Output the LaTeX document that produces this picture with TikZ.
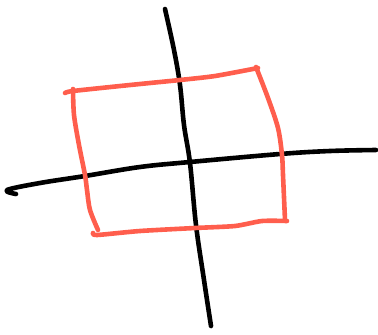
\documentclass[tikz,border=0pt]{standalone}
\usepackage{xcolor}
\usepackage{tikz}
\usetikzlibrary{calc}

\definecolor{sketchred}{HTML}{FF5E4D}

\begin{document}
\begin{tikzpicture}[
    x=1pt,
    y=-1pt,
    line cap=round,
    line join=round,
    axisline/.style={
        draw=black,
        line width=4.6pt
    },
    boxline/.style={
        draw=sketchred,
        line width=4.6pt
    }
]

\useasboundingbox (0,0) rectangle (378,335);

% ==========================================================
% AXES
% ==========================================================
\draw[axisline] plot[smooth, tension=0.6] coordinates {
    (165,9) (174,50) (180,85) (184,125) (190,163) (196,225) (204,280) (211,326)};

\draw[axisline] plot[smooth, tension=0.6] coordinates {
    (16,194) (7,190) (40,183) (85,176) (140,167) (190,162) (280,154) (330,151) (376,150)};

% ==========================================================
% BOX
% ==========================================================
\draw[boxline] plot[smooth, tension=0.4] coordinates {
    (65,93) (73,91) (130,85) (180,80) (215,76) (258,68)};
\draw[boxline] plot[smooth, tension=0.5] coordinates {
    (256,67) (268,98) (278,128) (282,155) (283,175) (285,220)};
\draw[boxline] plot[smooth, tension=0.4] coordinates {
    (287,221) (262,221) (235,226) (195,228) (140,231) (97,235) (93,233)};
\draw[boxline] plot[smooth, tension=0.5] coordinates {
    (98,230) (90,210) (87,190) (85,175) (79,145) (74,115) (73,89)};

\end{tikzpicture}
\end{document}
